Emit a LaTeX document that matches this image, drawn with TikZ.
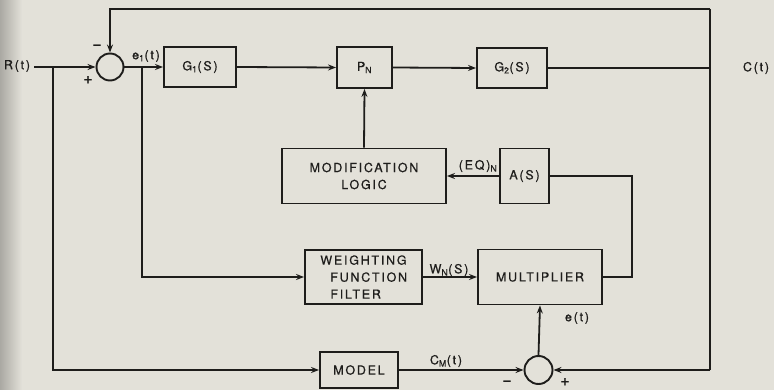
\documentclass[tikz,border=0pt]{standalone}
\usepackage{fontspec}
\setmainfont{TeX Gyre Heros}[LetterSpace=14,FakeBold=0.6]
\usetikzlibrary{arrows.meta}
\definecolor{paper}{RGB}{227,225,217}
\definecolor{ink}{RGB}{30,29,27}
\tikzset{
  blk/.style={draw=ink, line width=1.9pt, inner sep=0pt, align=center, text=ink, font=\fontsize{12.5}{17}\selectfont},
  sumj/.style={draw=ink, line width=1.9pt, circle, inner sep=0pt, minimum size=#1},
  wire/.style={draw=ink, line width=1.8pt},
  arr/.style={wire, -{Stealth[length=8pt,width=6pt]}},
  lbl/.style={text=ink, inner sep=0pt, font=\fontsize{12.5}{14}\selectfont},
  sgn/.style={text=ink, inner sep=0pt, font=\fontsize{16}{16}\selectfont},
}
\begin{document}
\begin{tikzpicture}[x=1pt,y=-1pt]
\fill[paper] (0,0) rectangle (774,390);
\shade[left color=black!25!paper, right color=paper] (0,0) rectangle (22,390);
\useasboundingbox (0,0) rectangle (774,390);

% blocks
\node[blk, minimum width=72pt, minimum height=40pt] (g1) at (200,67) {G\textsubscript{1}(S)};
\node[blk, minimum width=55pt, minimum height=41pt] (pn) at (364.5,67.5) {P\textsubscript{N}};
\node[blk, minimum width=70pt, minimum height=40pt] (g2) at (512,68) {G\textsubscript{2}(S)};
\node[blk, minimum width=164pt, minimum height=55pt] (ml) at (364,176) {MODIFICATION\\LOGIC};
\node[blk, minimum width=49pt, minimum height=55pt] (as) at (524.5,176) {A(S)};
\node[blk, minimum width=117pt, minimum height=54pt] (wf) at (363.5,277) {WEIGHTING\\\ \ FUNCTION\\FILTER\ \ \ \ };
\node[blk, minimum width=124pt, minimum height=55pt] (mu) at (540,277) {MULTIPLIER};
\node[blk, minimum width=78pt, minimum height=36pt] (mo) at (359,370) {MODEL};
\node[sumj=27pt] (s1) at (110,67) {};
\node[sumj=28pt] (s2) at (538.5,370) {};

% coordinates
\coordinate (rin) at (34,67);
\coordinate (b1) at (53,67);
\coordinate (b1d) at (53,370);
\coordinate (b2) at (142,67);
\coordinate (b2d) at (142,277);
\coordinate (tl) at (110,9);
\coordinate (tr) at (710,9);
\coordinate (cr) at (710,68);
\coordinate (br) at (710,370);
\coordinate (ar) at (632,176);
\coordinate (arb) at (632,277);

% wires
\draw[arr] (rin) -- (s1.west);
\draw[arr] (s1.east) -- (g1.west);
\draw[arr] (g1.east) -- (pn.west);
\draw[arr] (pn.east) -- (g2.west);
\draw[wire] (g2.east) -- (cr);
\draw[arr] (tr) -- (tl) -- (s1.north);
\draw[wire] (tr) -- (cr) -- (br);
\draw[arr] (br) -- (s2.east);
\draw[arr] (b1) -- (b1d) -- (mo.west);
\draw[arr] (b2) -- (b2d) -- (wf.west);
\draw[arr] (ml.north) -- (pn.south);
\draw[arr] (as.west) -- (ml.east);
\draw[wire] (as.east) -- (ar) -- (arb) -- (mu.east);
\draw[arr] (wf.east) -- (mu.west);
\draw[arr] (mo.east) -- (s2.west);
\draw[arr] (s2.north) -- (mu.south);

% labels
\node[lbl] (lr) at (17,66) {R(t)};
\node[sgn] (lm1) at (97,47) {\textminus};
\node[sgn] (lp1) at (88,80) {+};
\node[lbl] (le1) at (146,56) {e\textsubscript{1}(t)};
\node[lbl] (lc) at (756,68) {C(t)};
\node[lbl] (leq) at (478,166) {(EQ)\textsubscript{N}};
\node[lbl] (lw) at (449,270) {W\textsubscript{N}(S)};
\node[lbl] (lcm) at (446,361) {C\textsubscript{M}(t)};
\node[lbl] (le) at (577,318) {e(t)};
\node[sgn] (lm2) at (507,383) {\textminus};
\node[sgn] (lp2) at (565,382) {+};
\end{tikzpicture}
\end{document}
